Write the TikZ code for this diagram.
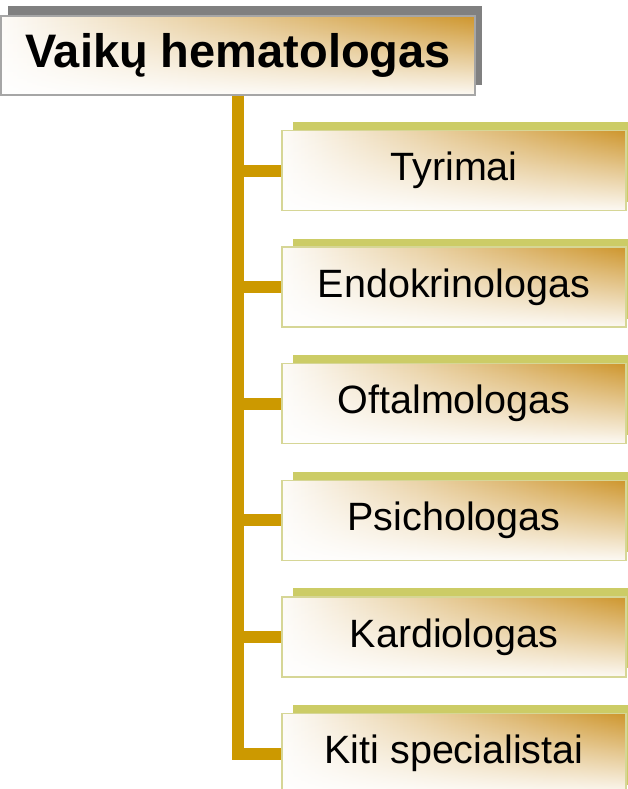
\documentclass[tikz,border=0pt]{standalone}
\usepackage{fontspec}
\setmainfont{Liberation Sans}
\usetikzlibrary{shadows,fadings}
\definecolor{trunkgold}{RGB}{204,153,0}
\definecolor{goldA}{RGB}{206,150,45}
\definecolor{tanA}{RGB}{226,198,160}
\definecolor{creamA}{RGB}{253,251,248}
\definecolor{olivesh}{RGB}{204,204,102}
\definecolor{oliveborder}{RGB}{214,214,150}
\definecolor{graysh}{RGB}{128,128,128}
\tikzfading[name=fadebottom, top color=transparent!100, middle color=transparent!85, bottom color=transparent!5]
\tikzset{
  gradbox/.style={rectangle, inner sep=0pt,
    left color=creamA, middle color=tanA, right color=goldA,
    path picture={\fill[white, path fading=fadebottom]
      (path picture bounding box.south west) rectangle (path picture bounding box.north east);}},
  topbox/.style={gradbox, draw=gray!70, line width=1.5pt,
    minimum width=474pt, minimum height=79pt,
    font=\fontsize{47}{50}\selectfont\bfseries,
    general shadow={fill=graysh, shadow xshift=7pt, shadow yshift=10pt}},
  childbox/.style={gradbox, draw=oliveborder, line width=1.5pt,
    minimum width=344pt, minimum height=80pt,
    font=\fontsize{39.5}{42}\selectfont,
    general shadow={fill=olivesh, shadow xshift=11pt, shadow yshift=8.5pt}},
  conn/.style={draw=trunkgold, line width=12pt, line join=miter}
}
\begin{document}
\begin{tikzpicture}[x=1pt,y=-1pt]
\clip (0,0) rectangle (628,789);
\fill[white] (0,0) rectangle (628,789);
\node[topbox] (top) at (238,55.5) {\raisebox{-2pt}{Vaikų hematologas}};
\node[childbox] (c1) at (454,170.5) {\raisebox{-2pt}{Tyrimai}};
\node[childbox] (c2) at (454,287.1) {\raisebox{-2pt}{Endokrinologas}};
\node[childbox] (c3) at (454,403.7) {\raisebox{-2pt}{Oftalmologas}};
\node[childbox] (c4) at (454,520.3) {\raisebox{-2pt}{Psichologas}};
\node[childbox] (c5) at (454,636.9) {\raisebox{-2pt}{Kardiologas}};
\node[childbox] (c6) at (454,753.5) {\raisebox{-2pt}{Kiti specialistai}};
\draw[conn] (top.south) |- (c6.west);
\foreach \n in {c1,c2,c3,c4,c5}{
  \draw[conn] (top.south |- \n.west) -- (\n.west);
}
\end{tikzpicture}
\end{document}
